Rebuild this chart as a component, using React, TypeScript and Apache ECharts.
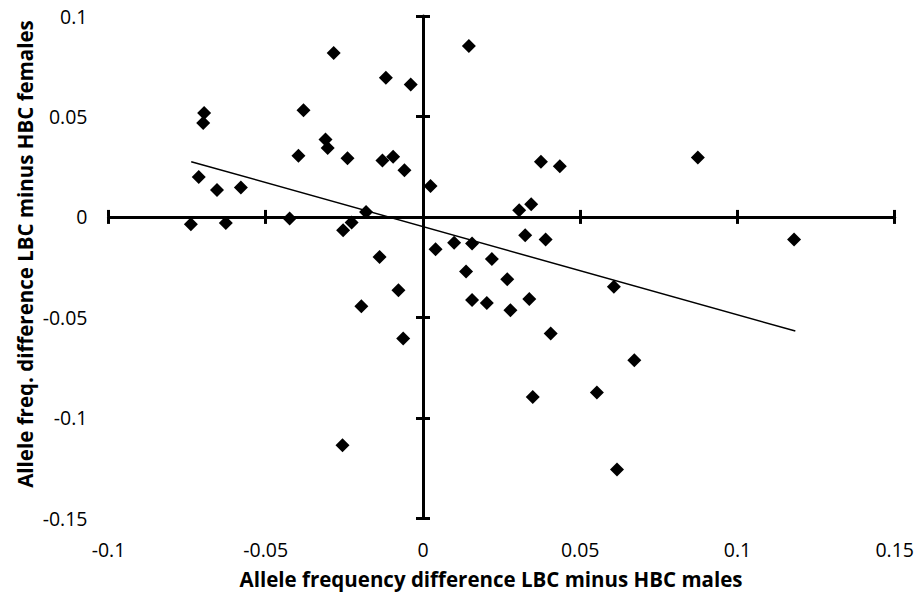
import React, { useEffect, useRef } from "react";
import * as echarts from "echarts";

// Scatter points: [male diff (x), female diff (y)]
const pointsX = [
  -0.0284, -0.0118, -0.0039, -0.0696, -0.0699, -0.038, -0.031, -0.0303, -0.0396, -0.024,
  -0.0129, -0.0095, -0.0059, -0.0713, -0.0655, -0.0579, 0.0024, -0.0181,
  -0.0738, -0.0627, -0.0424, -0.0227, -0.0254, -0.0138, -0.0078, -0.0196, -0.0063, -0.0256,
  0.0306, 0.0344, 0.004, 0.0099, 0.0156, 0.0325, 0.039, 0.118, 0.0219, 0.0137,
  0.0268, 0.0607, 0.0156, 0.0203, 0.0338, 0.0278, 0.0406, 0.0672, 0.0349, 0.0553, 0.0617,
  0.0146, 0.0375, 0.0435, 0.0874,
];
const pointsY = [
  0.0816, 0.0693, 0.0659, 0.0517, 0.0468, 0.0531, 0.0385, 0.0343, 0.0305, 0.0292,
  0.0281, 0.0299, 0.0232, 0.0199, 0.0134, 0.0146, 0.0154, 0.0025,
  -0.0036, -0.003, -0.0008, -0.0028, -0.0066, -0.0199, -0.0365, -0.0444, -0.0605, -0.1136,
  0.0033, 0.0063, -0.0161, -0.0129, -0.0132, -0.0091, -0.0112, -0.0112, -0.021, -0.0272,
  -0.031, -0.0348, -0.0414, -0.0428, -0.0409, -0.0464, -0.058, -0.0713, -0.0896, -0.0874, -0.1257,
  0.0851, 0.0274, 0.0252, 0.0296,
];

// Linear trendline endpoints
const trendX = [-0.0737, 0.1184];
const trendY = [0.0275, -0.0568];

const xTicks = [-0.1, -0.05, 0, 0.05, 0.1, 0.15];
const xTickLabels = ["-0.1", "-0.05", "0", "0.05", "0.1", "0.15"];
const yTicks = [-0.15, -0.1, -0.05, 0, 0.05, 0.1];
const yTickLabels = ["-0.15", "-0.1", "-0.05", "0", "0.05", "0.1"];

const xTitle = "Allele frequency difference LBC minus HBC males";
const yTitle = "Allele freq. difference LBC minus HBC females";

const FONT = "Open Sans";

function labelFor(ticks: number[], labels: string[], v: number) {
  for (let i = 0; i < ticks.length; i++) {
    if (Math.abs(ticks[i] - v) < 1e-9) return labels[i];
  }
  return "";
}

export default function App() {
  const ref = useRef<HTMLDivElement>(null);
  useEffect(() => {
    if (!ref.current) return;
    const chart = echarts.init(ref.current, null, { renderer: "svg" });
    const lineStyle = { color: "#000", width: 3 };
    const xBase = { type: "value", min: -0.1, max: 0.15, interval: 0.05, splitLine: { show: false } };
    const yBase = { type: "value", min: -0.15, max: 0.1, interval: 0.05, splitLine: { show: false } };
    const option: any = {
      animation: false,
      backgroundColor: "#fff",
      grid: { left: 108.5, top: 16, width: 789.5, height: 502.3, containLabel: false },
      xAxis: [
        {
          ...xBase,
          position: "bottom",
          axisLine: { show: false, onZero: false },
          axisTick: { show: false },
          axisLabel: {
            margin: 21,
            fontSize: 19.5,
            fontFamily: FONT,
            color: "#000",
            formatter: (v: number) => labelFor(xTicks, xTickLabels, v),
          },
        },
        {
          ...xBase,
          position: "bottom",
          axisLine: { show: true, onZero: true, onZeroAxisIndex: 0, lineStyle },
          axisTick: { show: true, inside: false, length: 7, lineStyle },
          axisLabel: { show: false },
        },
        {
          ...xBase,
          position: "bottom",
          axisLine: { show: false, onZero: true, onZeroAxisIndex: 0 },
          axisTick: { show: true, inside: true, length: 7, lineStyle },
          axisLabel: { show: false },
        },
      ],
      yAxis: [
        {
          ...yBase,
          position: "left",
          axisLine: { show: false, onZero: false },
          axisTick: { show: false },
          axisLabel: {
            margin: 21,
            fontSize: 19.5,
            fontFamily: FONT,
            color: "#000",
            formatter: (v: number) => labelFor(yTicks, yTickLabels, v),
          },
        },
        {
          ...yBase,
          position: "left",
          axisLine: { show: true, onZero: true, onZeroAxisIndex: 0, lineStyle },
          axisTick: { show: true, inside: false, length: 7, lineStyle },
          axisLabel: { show: false },
        },
        {
          ...yBase,
          position: "left",
          axisLine: { show: false, onZero: true, onZeroAxisIndex: 0 },
          axisTick: { show: true, inside: true, length: 7, lineStyle },
          axisLabel: { show: false },
        },
      ],
      graphic: [
        {
          type: "text",
          x: 491,
          y: 579,
          style: {
            text: xTitle,
            fontFamily: FONT,
            fontWeight: "bold",
            fontSize: 20.5,
            fill: "#000",
            textAlign: "center",
            textVerticalAlign: "middle",
          },
        },
        {
          type: "text",
          x: 25,
          y: 254,
          rotation: Math.PI / 2,
          style: {
            text: yTitle,
            fontFamily: FONT,
            fontWeight: "bold",
            fontSize: 20.5,
            fill: "#000",
            textAlign: "center",
            textVerticalAlign: "middle",
          },
        },
      ],
      series: [
        {
          type: "scatter",
          xAxisIndex: 0,
          yAxisIndex: 0,
          symbol: "diamond",
          symbolSize: 14,
          itemStyle: { color: "#000", opacity: 1 },
          data: pointsX.map((x, i) => [x, pointsY[i]]),
          z: 3,
        },
        {
          type: "line",
          xAxisIndex: 0,
          yAxisIndex: 0,
          symbol: "none",
          lineStyle: { color: "#000", width: 1.5 },
          data: trendX.map((x, i) => [x, trendY[i]]),
          z: 4,
        },
      ],
    };
    chart.setOption(option);
    return () => chart.dispose();
  }, []);
  return (
    <div
      ref={ref}
      style={{ position: "fixed", left: 0, top: 0, width: 917, height: 594, background: "#fff" }}
    />
  );
}
